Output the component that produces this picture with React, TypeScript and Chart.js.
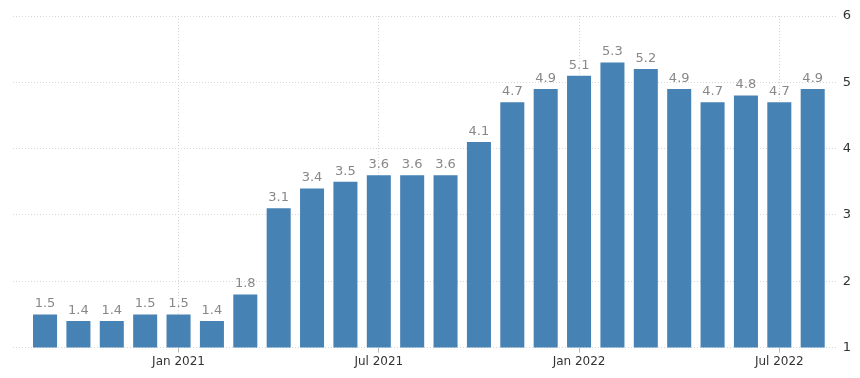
import React, { useEffect, useRef } from "react";
import { Chart, registerables } from "chart.js";

Chart.register(...registerables);

const months = [
  "Sep 2020", "Oct 2020", "Nov 2020", "Dec 2020", "Jan 2021", "Feb 2021", "Mar 2021", "Apr 2021",
  "May 2021", "Jun 2021", "Jul 2021", "Aug 2021", "Sep 2021", "Oct 2021", "Nov 2021", "Dec 2021",
  "Jan 2022", "Feb 2022", "Mar 2022", "Apr 2022", "May 2022", "Jun 2022", "Jul 2022", "Aug 2022",
];
const values = [
  1.5, 1.4, 1.4, 1.5, 1.5, 1.4, 1.8, 3.1, 3.4, 3.5, 3.6, 3.6,
  3.6, 4.1, 4.7, 4.9, 5.1, 5.3, 5.2, 4.9, 4.7, 4.8, 4.7, 4.9,
];
const tickMonths = ["Jan 2021", "Jul 2021", "Jan 2022", "Jul 2022"];
const yTicks = [1, 2, 3, 4, 5, 6];

const FONT = "'DejaVu Sans', sans-serif";

const labelPlugin = {
  id: "valueLabels",
  afterDatasetsDraw(chart: any) {
    const ctx = chart.ctx;
    const meta = chart.getDatasetMeta(0);
    ctx.save();
    ctx.font = `13px ${FONT}`;
    ctx.fillStyle = "#888888";
    ctx.textAlign = "center";
    ctx.textBaseline = "bottom";
    meta.data.forEach((bar: any, i: number) => {
      ctx.fillText(values[i].toFixed(1), bar.x, bar.y - 4);
    });
    ctx.restore();
  },
};

export default function App() {
  const ref = useRef<HTMLCanvasElement | null>(null);
  useEffect(() => {
    if (!ref.current) return;
    const tickIdx = tickMonths.map((m) => months.indexOf(m));
    const chart = new Chart(ref.current, {
      type: "bar",
      data: {
        datasets: [
          {
            data: values.map((v, i) => ({ x: i, y: v })),
            backgroundColor: "#4682b4",
            borderWidth: 0,
            barPercentage: 0.72,
            categoryPercentage: 1,
          },
        ],
      },
      options: {
        animation: false,
        responsive: true,
        maintainAspectRatio: false,
        layout: { padding: { left: 13, right: 3, top: 16, bottom: 7 } },
        plugins: { legend: { display: false }, tooltip: { enabled: false } },
        scales: {
          x: {
            type: "linear",
            offset: false,
            min: -0.96,
            max: 23.72,
            afterBuildTicks: (axis: any) => {
              axis.ticks = tickIdx.map((v) => ({ value: v }));
            },
            ticks: {
              autoSkip: false,
              maxRotation: 0,
              color: "#333333",
              font: { family: FONT, size: 12 },
              padding: 2,
              callback: (v: any) => months[Math.round(Number(v))] ?? "",
            },
            grid: {
              offset: false,
              color: "#d6d6d6",
              tickColor: "#bbbbbb",
              tickLength: 5,
              lineWidth: 1,
            },
            border: { display: false, dash: [1, 2] },
          },
          y: {
            position: "right",
            min: 1,
            max: 6,
            afterBuildTicks: (axis: any) => {
              axis.ticks = yTicks.map((v) => ({ value: v }));
            },
            ticks: {
              color: "#333333",
              font: { family: FONT, size: 13 },
              padding: 6,
            },
            grid: { color: "#d6d6d6", drawTicks: false },
            border: { display: false, dash: [1, 2] },
          },
        },
      },
      plugins: [labelPlugin],
    });
    return () => chart.destroy();
  }, []);
  return (
    <div style={{ position: "fixed", left: 0, top: 0, width: 860, height: 378, background: "#fff" }}>
      <canvas ref={ref} />
    </div>
  );
}
